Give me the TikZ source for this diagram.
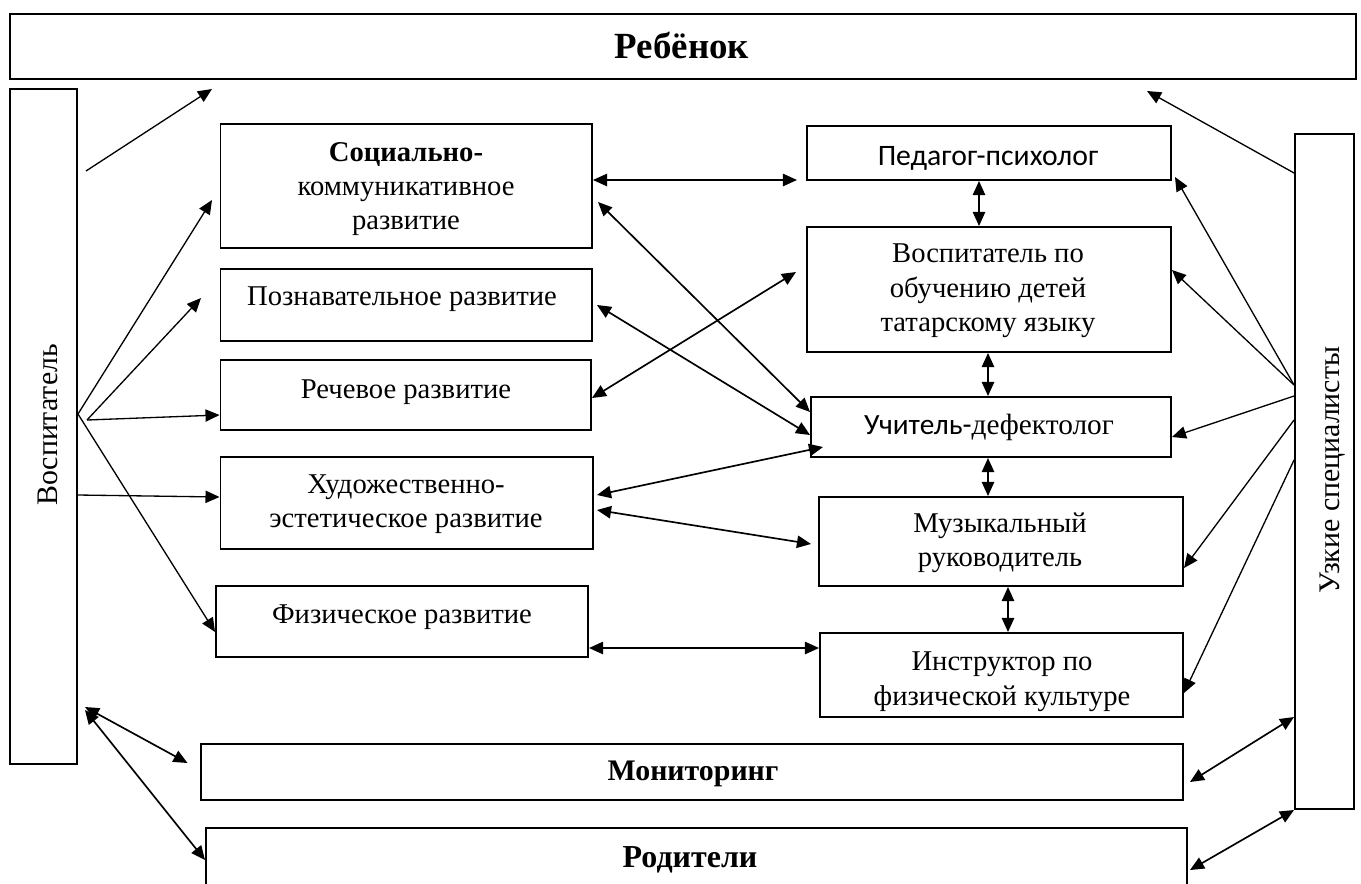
\documentclass[tikz,border=0pt]{standalone}
\usepackage{fontspec}
\setmainfont{Liberation Serif}
\newfontfamily\calib{Carlito}
\usetikzlibrary{arrows.meta,fit,calc}
\begin{document}
\begin{tikzpicture}[x=0.02cm,y=-0.02cm,
  box/.style={draw, line width=1.1pt, inner sep=0pt},
  txt/.style={inner sep=0pt, align=center, font=\fontsize{16.3}{19.4}\selectfont},
  big/.style={inner sep=0pt, font=\fontsize{17}{20}\selectfont},
  bld/.style={inner sep=0pt, font=\fontsize{17}{20}\selectfont\bfseries},
  arr/.style={line width=0.75pt, -{Triangle[length=8pt,width=7pt]}},
  darr/.style={line width=0.95pt, {Triangle[length=8pt,width=7pt]}-{Triangle[length=8pt,width=7pt]}},
]
\useasboundingbox (0,0) rectangle (1361,883);
\clip (0,0) rectangle (1361,883);

% boxes
\node[box, fit={(10,14) (1356,79)}] (reb) {};
\node[box, fit={(10,89) (77,764)}] (vos) {};
\node[box, fit={(1295,134) (1354,809)}] (uz) {};
\node[box, fit={(220.5,124) (592,248)}] (soc) {};
\node[box, fit={(220.5,269) (592,341)}] (poz) {};
\node[box, fit={(220.5,360) (591,430)}] (rech) {};
\node[box, fit={(220.5,457) (593,549)}] (hud) {};
\node[box, fit={(216,586) (588,657)}] (fiz) {};
\node[box, fit={(807,126) (1171,180)}] (ped) {};
\node[box, fit={(807,227) (1171,352)}] (vpo) {};
\node[box, fit={(811,397) (1171,457)}] (uch) {};
\node[box, fit={(819,497) (1183,586)}] (muz) {};
\node[box, fit={(820,633) (1183,717)}] (ins) {};
\node[box, fit={(201,744) (1183,800)}] (mon) {};
\node[box, fit={(206,828) (1187,900)}] (rod) {};

% texts
\node[inner sep=0pt, anchor=base, font=\fontsize{21}{25}\selectfont\bfseries] (reb-t) at (682,58) {Ребёнок};
\node[big, rotate=90] (vos-t) at (48,425) {Воспитатель};
\node[big, rotate=90] (uz-t) at (1333,470) {Узкие специалисты};
\node[txt] (soc-t) at (406,188.7) {\textbf{Социально-}\strut\\коммуникативное\strut\\развитие\strut};
\node[txt, anchor=base] (poz-t) at (402,305) {Познавательное развитие};
\node[txt, anchor=base] (rech-t) at (406,398) {Речевое развитие};
\node[txt] (hud-t) at (406,503.7) {Художественно-\strut\\эстетическое развитие\strut};
\node[txt, anchor=base] (fiz-t) at (402,623) {Физическое развитие};
\node[inner sep=0pt, anchor=base, font=\fontsize{16.9}{19}\selectfont\calib] (ped-t) at (988,165) {Педагог-психолог};
\node[txt] (vpo-t) at (988,290.2) {Воспитатель по\strut\\обучению детей\strut\\татарскому языку\strut};
\node[inner sep=0pt, anchor=base, font=\fontsize{16.7}{19}\selectfont] (uch-t) at (989,434) {{\calib Учитель-}дефектолог};
\node[txt] (muz-t) at (1000,542.7) {Музыкальный\strut\\руководитель\strut};
\node[txt] (ins-t) at (1002,681.2) {Инструктор по\strut\\физической культуре\strut};
\node[bld, anchor=base] (mon-t) at (693,780) {Мониторинг};
\node[bld, anchor=base, font=\fontsize{18.2}{21}\selectfont\bfseries] (rod-t) at (690,867) {Родители};

% free connector ends
\coordinate (v1) at (86,171);
\coordinate (r1) at (212,89);
\coordinate (vhub) at (vos.east |- 0,414);
\coordinate (vhub2) at (87,420);
\coordinate (t2) at (212,200);
\coordinate (t3) at (201,298);
\coordinate (v7) at (85,707);
\coordinate (t7) at (187.5,763);
\coordinate (v8) at (85,710);
\coordinate (t9) at (797,180);
\coordinate (s10) at (598,202);
\coordinate (s11) at (597,305);
\coordinate (t12) at (796,272);
\coordinate (s13) at (597,495);
\coordinate (t13) at (823,447);
\coordinate (s14) at (597,510);
\coordinate (t14) at (811,544);
\coordinate (r20) at (1147,91);
\coordinate (t21) at (1175,177);
\coordinate (t26) at (1190,782);
\coordinate (t27) at (1190,870);

% Воспитатель
\draw[arr] (v1) -- (r1);
\draw[arr] (vhub) -- (t2);
\draw[arr] (vhub2) -- (t3);
\draw[arr] (vhub2) -- (rech.west |- 0,415);
\draw[arr] (vos.east |- 0,495) -- (hud.west |- 0,497);
\draw[arr] (vhub) -- (fiz.west |- 0,632);
\draw[darr] (v7) -- (t7);
\draw[darr] (v8) -- (rod.west |- 0,860);

% middle
\draw[darr] (soc.east |- 0,180) -- (t9);
\draw[darr] (s10) -- (uch.west |- 0,412);
\draw[darr] (s11) -- (uch.west |- 0,435);
\draw[darr] (rech.east |- 0,398) -- (t12);
\draw[darr] (s13) -- (t13);
\draw[darr] (s14) -- (t14);
\draw[darr] (fiz.east |- 0,648) -- (ins.west |- 0,648);

% right column verticals
\draw[darr] (979,0 |- ped.south) -- (979,0 |- vpo.north);
\draw[darr] (988,0 |- vpo.south) -- (988,0 |- uch.north);
\draw[darr] (988,0 |- uch.south) -- (988,0 |- muz.north);
\draw[darr] (1008,0 |- muz.south) -- (1008,0 |- ins.north);

% Узкие специалисты
\draw[arr] (uz.west |- 0,173) -- (r20);
\draw[arr] (uz.west |- 0,385) -- (t21);
\draw[arr] (uz.west |- 0,385) -- (vpo.east |- 0,270);
\draw[arr] (uz.west |- 0,396) -- (uch.east |- 0,437);
\draw[arr] (uz.west |- 0,420) -- (muz.east |- 0,568);
\draw[arr] (uz.west |- 0,460) -- (ins.east |- 0,693);
\draw[darr] (t26) -- (uz.west |- 0,717);
\draw[darr] (t27) -- (uz.west |- 0,810);
\end{tikzpicture}
\end{document}
